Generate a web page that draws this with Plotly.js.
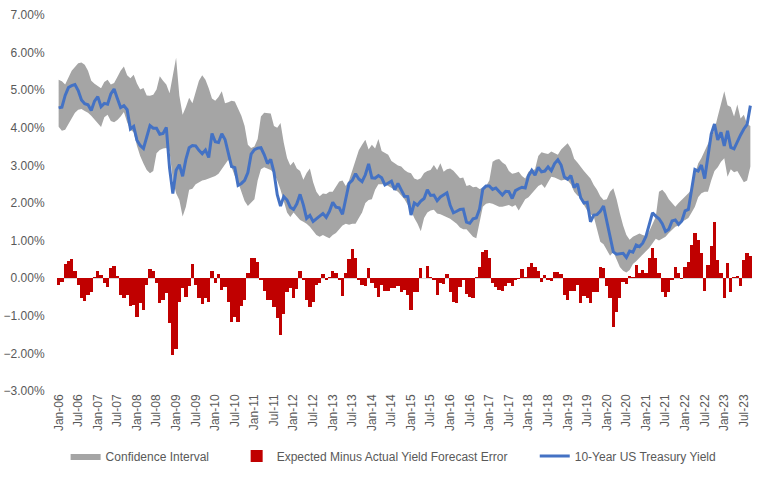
<!DOCTYPE html>
<html>
<head>
<meta charset="utf-8">
<script src="https://cdn.plot.ly/plotly-3.0.1.min.js"></script>
<style>html,body{margin:0;padding:0;background:#fff;}#chart{width:769px;height:477px;}</style>
</head>
<body>
<div id="chart"></div>
<script>
const categories = [
"Jan-06","Feb-06","Mar-06","Apr-06","May-06","Jun-06","Jul-06","Aug-06","Sep-06","Oct-06","Nov-06","Dec-06",
"Jan-07","Feb-07","Mar-07","Apr-07","May-07","Jun-07","Jul-07","Aug-07","Sep-07","Oct-07","Nov-07","Dec-07",
"Jan-08","Feb-08","Mar-08","Apr-08","May-08","Jun-08","Jul-08","Aug-08","Sep-08","Oct-08","Nov-08","Dec-08",
"Jan-09","Feb-09","Mar-09","Apr-09","May-09","Jun-09","Jul-09","Aug-09","Sep-09","Oct-09","Nov-09","Dec-09",
"Jan-10","Feb-10","Mar-10","Apr-10","May-10","Jun-10","Jul-10","Aug-10","Sep-10","Oct-10","Nov-10","Dec-10",
"Jan-11","Feb-11","Mar-11","Apr-11","May-11","Jun-11","Jul-11","Aug-11","Sep-11","Oct-11","Nov-11","Dec-11",
"Jan-12","Feb-12","Mar-12","Apr-12","May-12","Jun-12","Jul-12","Aug-12","Sep-12","Oct-12","Nov-12","Dec-12",
"Jan-13","Feb-13","Mar-13","Apr-13","May-13","Jun-13","Jul-13","Aug-13","Sep-13","Oct-13","Nov-13","Dec-13",
"Jan-14","Feb-14","Mar-14","Apr-14","May-14","Jun-14","Jul-14","Aug-14","Sep-14","Oct-14","Nov-14","Dec-14",
"Jan-15","Feb-15","Mar-15","Apr-15","May-15","Jun-15","Jul-15","Aug-15","Sep-15","Oct-15","Nov-15","Dec-15",
"Jan-16","Feb-16","Mar-16","Apr-16","May-16","Jun-16","Jul-16","Aug-16","Sep-16","Oct-16","Nov-16","Dec-16",
"Jan-17","Feb-17","Mar-17","Apr-17","May-17","Jun-17","Jul-17","Aug-17","Sep-17","Oct-17","Nov-17","Dec-17",
"Jan-18","Feb-18","Mar-18","Apr-18","May-18","Jun-18","Jul-18","Aug-18","Sep-18","Oct-18","Nov-18","Dec-18",
"Jan-19","Feb-19","Mar-19","Apr-19","May-19","Jun-19","Jul-19","Aug-19","Sep-19","Oct-19","Nov-19","Dec-19",
"Jan-20","Feb-20","Mar-20","Apr-20","May-20","Jun-20","Jul-20","Aug-20","Sep-20","Oct-20","Nov-20","Dec-20",
"Jan-21","Feb-21","Mar-21","Apr-21","May-21","Jun-21","Jul-21","Aug-21","Sep-21","Oct-21","Nov-21","Dec-21",
"Jan-22","Feb-22","Mar-22","Apr-22","May-22","Jun-22","Jul-22","Aug-22","Sep-22","Oct-22","Nov-22","Dec-22",
"Jan-23","Feb-23","Mar-23","Apr-23","May-23","Jun-23","Jul-23","Aug-23","Sep-23"
];

const tickLabels = [
"Jan-06","Jul-06","Jan-07","Jul-07","Jan-08","Jul-08","Jan-09","Jul-09","Jan-10","Jul-10",
"Jan-11","Jul-11","Jan-12","Jul-12","Jan-13","Jul-13","Jan-14","Jul-14","Jan-15","Jul-15",
"Jan-16","Jul-16","Jan-17","Jul-17","Jan-18","Jul-18","Jan-19","Jul-19","Jan-20","Jul-20",
"Jan-21","Jul-21","Jan-22","Jul-22","Jan-23","Jul-23"
];

const treasuryYield = [
4.53,4.55,4.86,5.07,5.12,5.15,4.99,4.74,4.64,4.61,4.46,4.71,
4.83,4.56,4.65,4.63,4.90,5.03,4.78,4.54,4.59,4.48,3.97,4.04,
3.67,3.53,3.45,3.77,4.06,3.99,3.99,3.83,3.85,4.01,2.93,2.25,
2.87,3.02,2.71,3.16,3.47,3.53,3.52,3.40,3.31,3.41,3.21,3.85,
3.63,3.61,3.84,3.69,3.31,2.97,2.94,2.47,2.52,2.60,2.81,3.30,
3.42,3.46,3.47,3.29,3.05,3.16,2.82,2.22,1.92,2.17,2.08,1.89,
1.83,1.98,2.23,1.95,1.59,1.67,1.51,1.57,1.65,1.72,1.62,1.78,
2.02,1.89,1.87,1.70,2.16,2.52,2.60,2.78,2.64,2.57,2.75,3.04,
2.67,2.66,2.73,2.67,2.48,2.53,2.58,2.35,2.52,2.35,2.18,2.17,
1.68,2.00,1.94,2.05,2.12,2.35,2.20,2.21,2.06,2.16,2.21,2.27,
1.94,1.74,1.78,1.83,1.84,1.49,1.46,1.58,1.60,1.84,2.37,2.45,
2.45,2.36,2.40,2.29,2.21,2.31,2.30,2.12,2.33,2.38,2.42,2.40,
2.72,2.87,2.74,2.95,2.83,2.85,2.96,2.86,3.05,3.15,3.01,2.69,
2.63,2.73,2.41,2.51,2.14,2.00,2.02,1.50,1.68,1.69,1.78,1.92,
1.51,1.13,0.70,0.64,0.65,0.66,0.55,0.72,0.69,0.88,0.84,0.93,
1.11,1.44,1.74,1.65,1.58,1.45,1.24,1.30,1.52,1.55,1.43,1.52,
1.79,1.83,2.32,2.89,2.85,3.01,2.65,3.19,3.83,4.10,3.68,3.88,
3.52,3.92,3.48,3.44,3.64,3.81,3.97,4.09,4.59
];

const ciUpper = [
5.28,5.24,5.15,5.33,5.52,5.62,5.72,5.74,5.68,5.52,5.25,5.17,
5.10,5.05,5.22,5.28,5.15,5.19,5.35,5.52,5.63,5.40,5.32,5.41,
5.18,5.02,5.06,4.86,4.85,4.88,5.02,5.37,5.25,5.15,4.92,5.45,
5.86,4.85,4.35,4.55,4.80,4.65,4.95,5.25,5.40,5.28,5.05,4.78,
4.72,4.82,4.97,4.65,4.68,4.72,4.70,4.50,4.32,4.05,3.55,3.46,
3.50,3.70,4.30,4.40,4.40,4.38,4.05,4.00,4.13,3.60,3.20,3.00,
3.10,2.92,2.85,2.62,2.80,2.92,2.55,2.30,2.18,2.25,2.24,2.30,
2.30,2.45,2.57,2.60,2.45,2.60,2.85,3.15,3.40,3.55,3.68,3.42,
3.55,3.45,3.70,3.38,3.32,3.28,3.12,3.06,3.00,2.97,2.88,2.82,
2.79,2.65,2.62,2.66,2.80,2.85,2.88,3.01,2.88,3.06,2.83,2.90,
2.92,2.86,2.75,2.66,2.68,2.45,2.48,2.42,2.43,2.37,2.40,2.45,
2.60,3.10,3.15,3.17,3.08,3.02,2.85,2.78,2.80,2.83,2.72,2.65,
2.83,2.86,2.90,3.25,3.35,3.32,3.30,3.37,3.32,3.28,3.42,3.50,
3.59,3.45,3.18,3.08,2.98,2.85,2.75,2.65,2.48,2.35,2.18,2.08,
2.10,2.30,2.39,2.10,1.73,1.40,1.15,1.02,1.10,1.15,1.19,1.15,
1.12,1.25,1.45,1.63,2.30,2.35,2.25,2.10,2.00,1.90,2.00,2.10,
2.17,2.26,2.35,2.75,3.05,3.20,3.40,3.60,3.75,3.95,4.30,4.60,
4.97,4.60,4.55,4.30,4.62,4.25,4.35,4.10,4.05
];

const ciLower = [
4.03,3.92,3.95,4.10,4.28,4.40,4.48,4.50,4.45,4.40,4.32,4.22,
4.12,4.02,4.28,4.35,4.18,4.15,4.21,4.30,4.42,4.15,3.95,3.88,
3.52,3.25,3.05,2.88,2.79,2.85,3.32,3.41,3.45,3.46,3.37,2.61,
2.26,2.08,1.64,1.90,2.35,2.38,2.50,2.55,2.60,2.62,2.65,2.70,
2.72,2.78,2.90,3.05,3.15,2.95,2.72,2.55,2.30,2.05,1.92,2.00,
2.10,2.60,2.90,2.95,2.92,2.88,2.80,2.60,2.35,2.05,1.75,1.63,
1.75,1.65,1.55,1.50,1.45,1.37,1.25,1.15,1.10,1.15,1.10,1.06,
1.15,1.20,1.30,1.40,1.45,1.42,1.45,1.45,1.60,1.75,2.00,2.08,
2.10,2.35,2.50,2.50,2.50,2.45,2.40,2.35,2.30,2.20,2.10,1.95,
1.80,1.60,1.45,1.25,1.60,1.75,1.80,1.82,1.72,1.70,1.65,1.62,
1.58,1.52,1.45,1.35,1.30,1.30,1.20,1.10,1.06,1.50,1.90,1.98,
2.00,1.98,1.95,1.90,1.90,1.92,1.95,1.90,1.95,1.80,1.95,2.10,
2.15,2.25,2.35,2.45,2.50,2.40,2.55,2.70,2.68,2.65,2.60,2.62,
2.60,2.50,2.30,2.20,2.15,1.95,1.80,1.70,1.64,1.30,0.97,0.90,
0.75,0.60,0.70,0.50,0.30,0.20,0.15,0.22,0.38,0.45,0.55,0.62,
0.72,0.80,0.92,1.05,1.00,1.05,1.10,1.20,1.30,1.37,1.40,1.50,
1.55,1.60,1.75,1.90,2.15,2.26,2.30,2.30,2.60,2.85,2.95,3.10,
3.19,2.70,2.90,2.82,2.85,2.70,2.55,2.60,2.97
];

const forecastError = [
-0.18,-0.09,0.39,0.46,0.50,0.20,-0.18,-0.53,-0.60,-0.44,-0.36,0.02,
0.18,0.09,-0.13,-0.24,0.27,0.33,0.06,-0.44,-0.53,-0.44,-0.74,-0.71,
-1.04,-0.65,-0.84,-0.18,0.24,0.18,-0.13,-0.65,-0.58,-0.40,-1.20,-2.04,
-1.87,-0.62,-0.27,-0.49,-0.22,0.38,-0.18,-0.53,-0.68,-0.53,-0.62,0.18,
-0.13,0.12,-0.31,-0.24,-0.62,-1.16,-1.04,-1.16,-0.74,-0.58,0.13,0.53,
0.53,0.44,-0.04,-0.33,-0.58,-0.58,-0.76,-1.07,-1.51,-0.95,-0.36,-0.27,
-0.53,-0.29,0.20,-0.06,-0.58,-0.76,-0.62,-0.18,-0.13,0.11,-0.04,0.02,
0.18,0.15,-0.06,-0.47,0.15,0.50,0.77,0.53,-0.04,-0.18,-0.22,0.27,
-0.12,-0.27,-0.49,-0.18,-0.34,-0.34,-0.27,-0.27,-0.22,-0.36,-0.31,-0.44,
-0.84,-0.36,-0.36,0.27,0.00,0.33,0.04,-0.06,-0.44,-0.13,-0.16,0.12,
-0.36,-0.62,-0.65,-0.24,-0.04,-0.42,-0.49,-0.53,0.04,0.29,0.71,0.76,
0.53,-0.13,-0.24,-0.31,-0.34,-0.22,-0.13,-0.22,-0.06,-0.03,0.24,0.04,
0.29,0.40,0.29,0.20,-0.09,0.09,-0.04,-0.07,0.16,0.16,0.11,-0.44,
-0.58,-0.34,-0.34,-0.18,-0.65,-0.46,-0.53,-0.67,-0.38,-0.36,0.29,0.27,
-0.22,-0.53,-1.29,-0.89,-0.53,-0.09,-0.15,0.06,0.02,0.36,0.15,0.22,
0.15,0.53,0.80,0.53,0.15,-0.36,-0.49,-0.36,-0.04,0.29,0.13,-0.03,
0.29,0.44,0.89,1.20,1.02,0.68,-0.33,0.36,0.86,1.50,0.49,0.13,
-0.53,0.40,-0.36,0.04,0.06,-0.22,0.49,0.67,0.58
];

const FONT = "'Liberation Sans Narrow', 'Liberation Sans', Lato, sans-serif";
const TXT = '#595959';

const traces = [
  {type:'scatter', mode:'lines', x:categories, y:ciLower, xaxis:'x', yaxis:'y',
   line:{width:0, color:'#A5A5A5'}, showlegend:false, hoverinfo:'skip'},
  {type:'scatter', mode:'lines', x:categories, y:ciUpper, xaxis:'x', yaxis:'y',
   fill:'tonexty', fillcolor:'#A5A5A5', line:{width:0, color:'#A5A5A5'},
   name:'Confidence Interval', legend:'legend'},
  {type:'bar', x:categories, y:forecastError, xaxis:'x', yaxis:'y2',
   marker:{color:'#C00000', line:{width:0}},
   name:'Expected Minus Actual Yield Forecast Error', legend:'legend2'},
  {type:'scatter', mode:'lines', x:categories, y:treasuryYield, xaxis:'x', yaxis:'y2',
   line:{color:'#4472C4', width:3},
   name:'10-Year US Treasury Yield', legend:'legend3'}
];

const legendBase = {orientation:'h', yanchor:'middle', xanchor:'left', y:-0.173,
  bgcolor:'rgba(0,0,0,0)', borderwidth:0, font:{family:FONT, size:12, color:TXT}};

const layout = {
  width:769, height:477,
  paper_bgcolor:'#ffffff', plot_bgcolor:'#ffffff',
  margin:{l:57, r:17, t:15, b:86, autoexpand:false},
  bargap:0, barmode:'overlay',
  font:{family:FONT, size:12, color:TXT},
  xaxis:{type:'category', range:[-0.5, categories.length-0.5],
    tickmode:'array', tickvals:tickLabels, ticktext:tickLabels, tickangle:-90,
    showgrid:false, zeroline:false, showline:false, ticks:'',
    tickfont:{family:FONT, size:12, color:TXT}},
  yaxis:{range:[-3,7], tick0:0, dtick:1, tickformat:'.2f', ticksuffix:'%',
    showgrid:false, showline:false, zeroline:true, zerolinecolor:'#D9D9D9', zerolinewidth:1,
    ticks:'outside', ticklen:9, tickcolor:'rgba(0,0,0,0)',
    tickfont:{family:FONT, size:12, color:TXT}},
  yaxis2:{range:[-3,7], overlaying:'y', visible:false},
  showlegend:true,
  legend:Object.assign({}, legendBase, {x:0.0124}),
  legend2:Object.assign({}, legendBase, {x:0.2585}),
  legend3:Object.assign({}, legendBase, {x:0.6874})
};

Plotly.newPlot('chart', traces, layout, {displayModeBar:false, staticPlot:true});
</script>
</body>
</html>
